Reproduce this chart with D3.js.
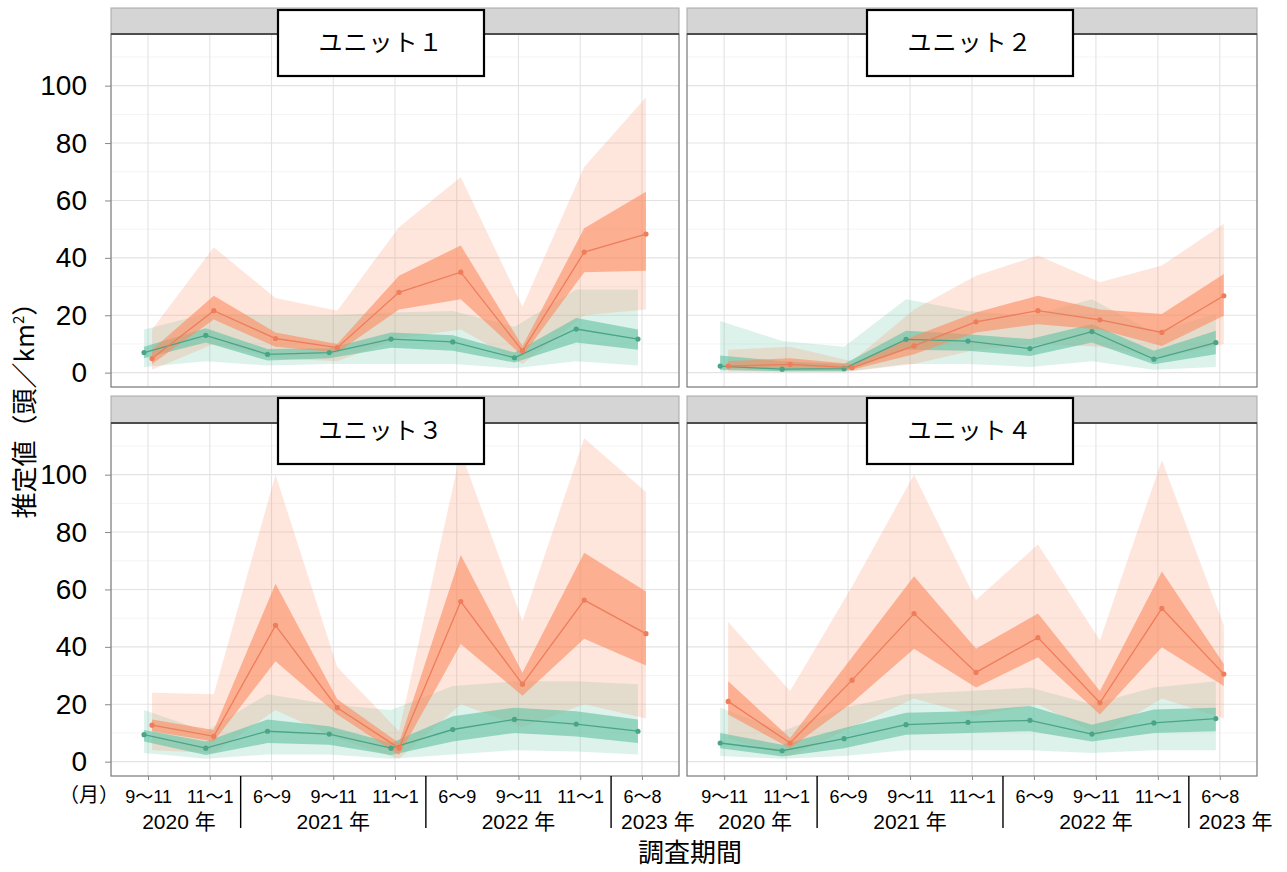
<!DOCTYPE html>
<html>
<head>
<meta charset="utf-8">
<script src="https://cdn.jsdelivr.net/npm/d3@7"></script>
<style>
  body { margin: 0; background: #fff; }
  text { font-family: "Liberation Sans", Arial, "Noto Sans CJK JP", sans-serif; fill: #000; }
</style>
</head>
<body>
<div id="container"></div>
<script>
// survey periods (x categories) and year groups below them
const periods = ["9～11", "11～1", "6～9", "9～11", "11～1", "6～9", "9～11", "11～1", "6～8"];
const yearLabels = ["2020 年", "2021 年", "2022 年", "2023 年"];
const yearStarts = [0, 2, 5, 8];
const units = ["ユニット１", "ユニット２", "ユニット３", "ユニット４"];
const yTicks = [0, 20, 40, 60, 80, 100];

// green series (one row per unit): estimate, 50% band, 95% band
const greenMean = [
  [7, 13, 6.4, 7, 11.7, 10.7, 5.2, 15.2, 11.7],
  [2.3, 1.2, 1.4, 11.6, 11, 8.4, 14.3, 4.7, 10.5],
  [9.4, 4.7, 10.6, 9.6, 4.7, 11.2, 14.7, 13.1, 10.6],
  [6.5, 3.8, 8, 12.9, 13.7, 14.4, 9.6, 13.5, 15]
];
const greenLo50 = [
  [5, 10.5, 4.2, 5, 8.7, 7.6, 3.5, 10.5, 8],
  [1, 0.5, 0.5, 8, 7.6, 5.8, 10.5, 2.9, 6.4],
  [7, 2.3, 6.5, 5.9, 2.3, 7, 10, 8.8, 6.5],
  [4.7, 1.8, 4.7, 9.4, 10, 10.6, 7, 10, 10.6]
];
const greenHi50 = [
  [9, 15.5, 8.2, 8.5, 14, 13, 7, 19, 15],
  [6, 4, 3, 14.6, 13.4, 11.7, 16.9, 7.6, 14.6],
  [11, 7, 14.7, 12.3, 6.5, 15.8, 18.8, 17.6, 14.7],
  [10, 5.9, 11.7, 17, 17.6, 19.4, 12.9, 18.2, 18.8]
];
const greenLo95 = [
  [2, 4, 2.5, 3, 3, 3, 1.5, 4, 2.5],
  [0.3, 0.2, 0.2, 3, 3, 2, 4, 1, 2],
  [3, 1, 2.5, 2.5, 1, 2.5, 4, 3.5, 2.5],
  [2, 1, 2, 4, 4, 4, 3, 4, 4]
];
const greenHi95 = [
  [15, 20.5, 20, 20, 21, 21.5, 16, 29, 29],
  [18, 11, 9, 25.6, 21.5, 19.8, 25.6, 14, 20.4],
  [18, 10.6, 23.5, 20, 18, 26.4, 28, 28, 27],
  [18.8, 10.6, 18.8, 23.5, 24.6, 25.8, 20, 25.8, 28]
];

// orange series
const orangeMean = [
  [4.9, 21.6, 11.9, 8.7, 28, 35, 7.6, 42, 48.3],
  [2.3, 2.9, 1.7, 9.3, 17.7, 21.6, 18.4, 14, 26.8],
  [12.7, 8.8, 47.5, 18.8, 4.7, 55.8, 27, 56.3, 44.6],
  [21, 6.5, 28.4, 51.6, 31.1, 43.2, 20.5, 53.4, 30.5]
];
const orangeLo50 = [
  [3, 18.5, 9, 7, 22, 25.6, 5.8, 35, 35.5],
  [1.5, 1.5, 1, 6.4, 14, 16.9, 15, 9.3, 19.8],
  [10.6, 7, 35, 16.4, 2.3, 41, 23, 42.8, 33.5],
  [16.4, 4.7, 20.5, 39.3, 25.8, 36.4, 16.4, 39.9, 26.4]
];
const orangeHi50 = [
  [8, 26.8, 14, 10, 33.8, 44.3, 9.3, 50.3, 63],
  [4, 5, 3, 12.8, 21, 26.8, 22, 20.4, 34.4],
  [14.7, 11, 62, 21.7, 6.5, 72, 31, 72.8, 59.3],
  [28, 8.2, 36.4, 64.6, 39.3, 51.6, 24.6, 66.3, 34]
];
const orangeLo95 = [
  [1, 10, 5, 4, 12, 15, 3, 20, 22],
  [0.5, 0.5, 0.5, 3, 8, 10, 9, 5, 10],
  [4, 3, 18, 8, 1, 20, 12, 20, 15],
  [8, 2, 12, 22, 16, 20, 9, 22, 15]
];
const orangeHi95 = [
  [15, 43.7, 26, 21.6, 50.7, 68.2, 23, 71.7, 96],
  [8, 9, 4, 22, 33.8, 40.8, 31.5, 37.3, 51.9],
  [24, 23.5, 100, 33, 10.6, 108, 49, 112.7, 94],
  [48.7, 24.6, 61, 100, 56.3, 75.7, 42.3, 105, 47.5]
];

const width = 1287;
const height = 872;

const cols = [[111, 679], [687, 1257]];
const rows = [
  { strip: 8, top: 34, bottom: 387 },
  { strip: 396, top: 423, bottom: 776 }
];
const labelBoxes = [[278, 484], [867, 1073]];

const series = [
  { mean: greenMean, lo50: greenLo50, hi50: greenHi50, lo95: greenLo95, hi95: greenHi95,
    fill: "#66C2A5", line: "#4aa586", dx: -4 },
  { mean: orangeMean, lo50: orangeLo50, hi50: orangeHi50, lo95: orangeLo95, hi95: orangeHi95,
    fill: "#FC8D62", line: "#ee7d5b", dx: 4 }
];

const svg = d3
  .select("#container")
  .append("svg")
  .attr("width", width)
  .attr("height", height);

units.forEach((unit, u) => {
  const col = cols[u % 2];
  const row = rows[Math.floor(u / 2)];
  const isLeft = u % 2 === 0;
  const isBottom = u >= 2;

  const x = d3.scalePoint().domain(d3.range(periods.length)).range(col).padding(0.6);
  const y = d3.scaleLinear().domain([-5, 118]).range([row.bottom, row.top]);

  const g = svg.append("g").attr("class", "panel");

  // grid
  g.selectAll(".minor")
    .data([10, 30, 50, 70, 90, 110])
    .enter()
    .append("line")
    .attr("x1", col[0]).attr("x2", col[1])
    .attr("y1", (d) => y(d)).attr("y2", (d) => y(d))
    .attr("stroke", "#f1f1f1").attr("stroke-width", 0.8);
  g.selectAll(".major")
    .data(yTicks)
    .enter()
    .append("line")
    .attr("x1", col[0]).attr("x2", col[1])
    .attr("y1", (d) => y(d)).attr("y2", (d) => y(d))
    .attr("stroke", "#e3e3e3").attr("stroke-width", 1.1);
  g.selectAll(".vgrid")
    .data(d3.range(periods.length))
    .enter()
    .append("line")
    .attr("x1", (d) => x(d)).attr("x2", (d) => x(d))
    .attr("y1", row.top).attr("y2", row.bottom)
    .attr("stroke", "#e3e3e3").attr("stroke-width", 1.1);

  // 95% ribbons, then 50% ribbons, then lines and points
  const rowsFor = (s) =>
    d3.range(periods.length).map((j) => ({
      j,
      m: s.mean[u][j], lo50: s.lo50[u][j], hi50: s.hi50[u][j],
      lo95: s.lo95[u][j], hi95: s.hi95[u][j]
    }));

  series.forEach((s) => {
    const area = d3.area().x((d) => x(d.j) + s.dx).y0((d) => y(d.lo95)).y1((d) => y(d.hi95));
    g.append("path").datum(rowsFor(s)).attr("d", area)
      .attr("fill", s.fill).attr("fill-opacity", 0.22);
  });
  series.forEach((s) => {
    const area = d3.area().x((d) => x(d.j) + s.dx).y0((d) => y(d.lo50)).y1((d) => y(d.hi50));
    g.append("path").datum(rowsFor(s)).attr("d", area)
      .attr("fill", s.fill).attr("fill-opacity", 0.62);
  });
  series.forEach((s) => {
    const line = d3.line().x((d) => x(d.j) + s.dx).y((d) => y(d.m));
    g.append("path").datum(rowsFor(s)).attr("d", line)
      .attr("fill", "none").attr("stroke", s.line).attr("stroke-width", 1.3);
    g.selectAll(null)
      .data(rowsFor(s))
      .enter()
      .append("circle")
      .attr("cx", (d) => x(d.j) + s.dx)
      .attr("cy", (d) => y(d.m))
      .attr("r", 2.6)
      .attr("fill", s.line);
  });

  // panel border
  g.append("rect")
    .attr("x", col[0]).attr("y", row.top)
    .attr("width", col[1] - col[0]).attr("height", row.bottom - row.top)
    .attr("fill", "none").attr("stroke", "#777").attr("stroke-width", 1.2);

  // strip
  g.append("rect")
    .attr("x", col[0]).attr("y", row.strip)
    .attr("width", col[1] - col[0]).attr("height", row.top - row.strip)
    .attr("fill", "#d5d5d5").attr("stroke", "#a8a8a8").attr("stroke-width", 1);
  g.append("line")
    .attr("x1", col[0]).attr("x2", col[1])
    .attr("y1", row.top).attr("y2", row.top)
    .attr("stroke", "#4d4d4d").attr("stroke-width", 2);

  // unit label box
  const box = labelBoxes[u % 2];
  g.append("rect")
    .attr("x", box[0]).attr("y", row.strip + 2)
    .attr("width", box[1] - box[0]).attr("height", 66)
    .attr("fill", "#fff").attr("stroke", "#000").attr("stroke-width", 2.2);
  g.append("text")
    .attr("x", (box[0] + box[1]) / 2)
    .attr("y", row.strip + 35)
    .attr("dy", "0.35em")
    .attr("text-anchor", "middle")
    .attr("font-size", 24)
    .attr("letter-spacing", 1)
    .style("font-family", "'Noto Sans CJK JP', sans-serif")
    .text(unit);

  // y axis (left column only)
  if (isLeft) {
    const yAxis = d3.axisLeft(y).tickValues(yTicks).tickSize(6).tickPadding(18);
    const ya = g.append("g").attr("transform", `translate(${col[0]},0)`).call(yAxis);
    ya.select(".domain").remove();
    ya.selectAll(".tick line").attr("stroke", "#888");
    ya.selectAll(".tick text").attr("font-size", 28).attr("fill", "#000")
      .style("font-family", "'Liberation Sans', Arial, sans-serif");
  }

  // x axis (bottom row only)
  if (isBottom) {
    const xAxis = d3.axisBottom(x).tickSize(4).tickPadding(10).tickFormat((d) => periods[d]);
    const xa = g.append("g").attr("transform", `translate(0,${row.bottom})`).call(xAxis);
    xa.select(".domain").remove();
    xa.selectAll(".tick line").attr("stroke", "#888");
    xa.selectAll(".tick text").attr("font-size", 18).attr("fill", "#000");

    if (isLeft) {
      g.append("text")
        .attr("x", col[0] + 8).attr("y", row.bottom + 26)
        .attr("text-anchor", "end")
        .attr("font-size", 20)
        .style("font-family", "'Noto Sans CJK JP', sans-serif")
        .text("（月）");
    }

    // year separators and year labels
    yearStarts.slice(1).forEach((s) => {
      const sx = (x(s - 1) + x(s)) / 2;
      g.append("line")
        .attr("x1", sx).attr("x2", sx)
        .attr("y1", row.bottom).attr("y2", row.bottom + 52)
        .attr("stroke", "#000").attr("stroke-width", 1.4);
    });
    yearLabels.forEach((lab, k) => {
      const first = yearStarts[k];
      const last = k < yearStarts.length - 1 ? yearStarts[k + 1] - 1 : periods.length - 1;
      const t = g.append("text")
        .attr("y", row.bottom + 53)
        .attr("font-size", 21)
        .text(lab);
      if (k === yearLabels.length - 1) {
        t.attr("x", (x(first - 1) + x(first)) / 2 + 10).attr("text-anchor", "start");
      } else {
        t.attr("x", (x(first) + x(last)) / 2).attr("text-anchor", "middle");
      }
    });
  }
});

// axis titles
svg.append("text")
  .attr("transform", "translate(34,404) rotate(-90)")
  .attr("text-anchor", "middle")
  .attr("font-size", 26)
  .style("font-family", "'Noto Sans CJK JP', sans-serif")
  .call((t) => {
    t.append("tspan").text("推定値（頭／km");
    t.append("tspan").attr("font-size", 15).attr("dy", -10).text("2");
    t.append("tspan").attr("dy", 10).text("）");
  });

svg.append("text")
  .attr("x", 690).attr("y", 862)
  .attr("text-anchor", "middle")
  .attr("font-size", 26)
  .style("font-family", "'Noto Sans CJK JP', sans-serif")
  .text("調査期間");
</script>
</body>
</html>
